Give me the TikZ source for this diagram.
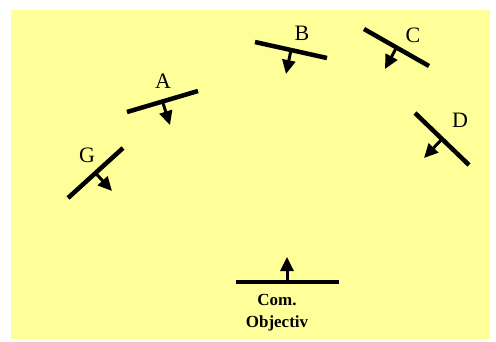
\documentclass[tikz,border=0pt]{standalone}
\usepackage{fontspec}
\setmainfont{Liberation Serif}
\usetikzlibrary{arrows.meta}
\definecolor{bgyellow}{HTML}{FFFF99}
\tikzset{
  bar/.style={line width=4.5pt},
  pointer/.style={line width=3pt,-{Triangle[width=13pt,length=14pt]}},
  lbl/.style={font=\fontsize{22}{24}\selectfont},
  caption/.style={font=\fontsize{17}{22}\selectfont\bfseries,align=center}
}
\begin{document}
\begin{tikzpicture}[x=1pt,y=-1pt]
\useasboundingbox (0,0) rectangle (496,341);
\fill[bgyellow] (11,10) rectangle (490,339);
% A
\coordinate (a1) at (127,112); \coordinate (a2) at (198,91);
\coordinate (am) at (162.5,101.5); \coordinate (at) at (170,125);
\draw[bar] (a1) -- (a2); \draw[pointer] (am) -- (at);
\node[lbl] (la) at (163,81) {A};
% B
\coordinate (b1) at (255,42); \coordinate (b2) at (327,58);
\coordinate (bm) at (291,50); \coordinate (bt) at (286,74);
\draw[bar] (b1) -- (b2); \draw[pointer] (bm) -- (bt);
\node[lbl] (lb) at (302,33) {B};
% C
\coordinate (c1) at (364,29); \coordinate (c2) at (429,66);
\coordinate (cm) at (396.5,47.5); \coordinate (ct) at (385,69);
\draw[bar] (c1) -- (c2); \draw[pointer] (cm) -- (ct);
\node[lbl] (lc) at (413,35) {C};
% D
\coordinate (d1) at (415,113); \coordinate (d2) at (469,165);
\coordinate (dm) at (442,139); \coordinate (dt) at (424,158);
\draw[bar] (d1) -- (d2); \draw[pointer] (dm) -- (dt);
\node[lbl] (ld) at (460,120) {D};
% G
\coordinate (g1) at (68,198); \coordinate (g2) at (123,148);
\coordinate (gm) at (95.5,173); \coordinate (gt) at (112,191);
\draw[bar] (g1) -- (g2); \draw[pointer] (gm) -- (gt);
\node[lbl] (lg) at (87,155) {G};
% Com. Objectiv
\coordinate (o1) at (236,282); \coordinate (o2) at (339,282);
\coordinate (om) at (287,282); \coordinate (ot) at (287,257);
\draw[bar] (o1) -- (o2); \draw[pointer] (om) -- (ot);
\node[caption] (lo) at (277,313) {Com.\\Objectiv};
\end{tikzpicture}
\end{document}
